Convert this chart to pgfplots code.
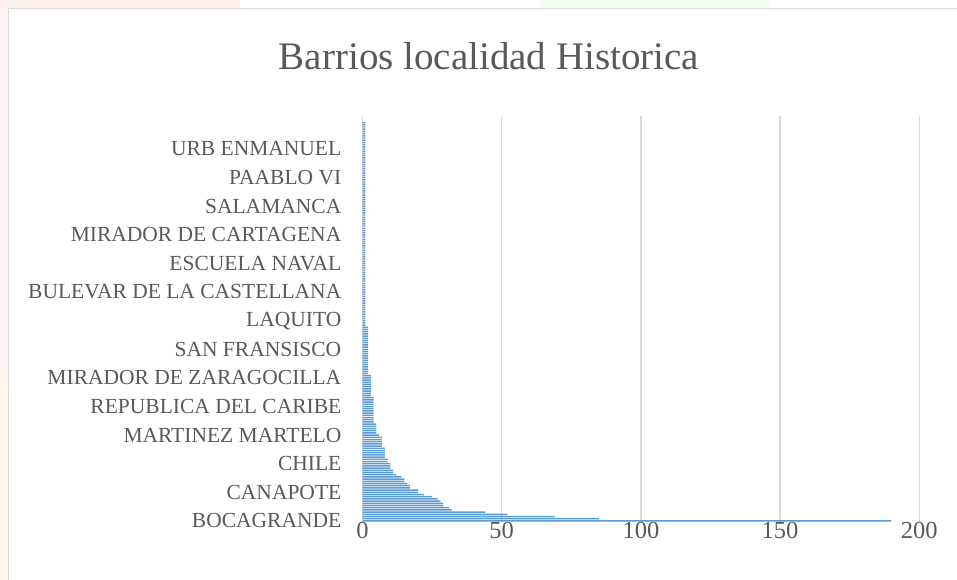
\documentclass[border=0pt]{standalone}
\usepackage{fontspec}
\setmainfont{Liberation Serif}
\usepackage{pgfplots}
\pgfplotsset{compat=1.18}
\definecolor{barblue}{HTML}{5B9BD5}
\definecolor{txtgray}{HTML}{595959}
\definecolor{gridgray}{HTML}{D9D9D9}
\definecolor{framegray}{HTML}{D9D9D9}
\begin{document}
\begin{tikzpicture}
\useasboundingbox (0pt,0pt) rectangle (957pt,580pt);
% faint decorations outside the chart frame
\fill[red!6] (0pt,571pt) rectangle (240pt,580pt);
\fill[green!5] (540pt,571pt) rectangle (770pt,580pt);
\fill[red!5] (0pt,200pt) rectangle (8pt,571pt);
\fill[orange!8] (0pt,0pt) rectangle (8pt,200pt);
\draw[framegray, line width=1pt] (8pt,0pt) -- (8pt,571pt) -- (957pt,571pt);
\node[anchor=base, text=txtgray, font=\fontsize{39}{39}\selectfont, inner sep=0pt] at (489pt,510pt) {Barrios localidad Historica};
\begin{axis}[
  at={(362.5pt,58pt)}, anchor=south west,
  scale only axis, width=556.8pt, height=406pt,
  xbar, bar width=0.65,
  xmin=0, xmax=200,
  ymin=-0.5, ymax=184,
  xtick={0,50,100,150,200},
  ytick={0,13,26,39,52,65,78,91,104,117,130,143,156,169},
  yticklabels={BOCAGRANDE, CANAPOTE, CHILE, MARTINEZ MARTELO, REPUBLICA DEL CARIBE, MIRADOR DE ZARAGOCILLA, SAN FRANSISCO, LAQUITO, BULEVAR DE LA CASTELLANA, ESCUELA NAVAL, MIRADOR DE CARTAGENA, SALAMANCA, PAABLO VI, URB ENMANUEL},
  major tick length=0pt,
  axis line style={draw=none},
  xmajorgrids, ymajorgrids=false,
  grid style={gridgray, line width=1.5pt},
  /pgf/number format/assume math mode=true,
  xticklabel style={text=txtgray, font=\fontsize{24.5}{24.5}\selectfont, inner sep=0pt, anchor=north, yshift=0pt},
  yticklabel style={text=txtgray, font=\fontsize{21.5}{21.5}\selectfont, inner sep=0pt, anchor=east, xshift=-21pt},
  clip=false,
]
\addplot[fill=barblue, draw=none] coordinates {
(190,0) (85,1) (69,2) (52,3) (44,4) (32,5) (31,6) (29,7) (29,8) (28,9)
(27,10) (25,11) (22,12) (20,13) (20,14) (17,15) (17,16) (16,17) (15,18) (15,19)
(14,20) (12,21) (11,22) (11,23) (10,24) (10,25) (10,26) (9,27) (9,28) (8,29)
(8,30) (8,31) (8,32) (8,33) (7,34) (7,35) (7,36) (7,37) (7,38) (6,39)
(5,40) (5,41) (5,42) (5,43) (5,44) (4,45) (4,46) (4,47) (4,48) (4,49)
(4,50) (4,51) (4,52) (4,53) (4,54) (4,55) (4,56) (3,57) (3,58) (3,59)
(3,60) (3,61) (3,62) (3,63) (3,64) (3,65) (3,66) (2,67) (2,68) (2,69)
(2,70) (2,71) (2,72) (2,73) (2,74) (2,75) (2,76) (2,77) (2,78) (2,79)
(2,80) (2,81) (2,82) (2,83) (2,84) (2,85) (2,86) (2,87) (2,88) (1,89)
(1,90) (1,91) (1,92) (1,93) (1,94) (1,95) (1,96) (1,97) (1,98) (1,99)
(1,100) (1,101) (1,102) (1,103) (1,104) (1,105) (1,106) (1,107) (1,108) (1,109)
(1,110) (1,111) (1,112) (1,113) (1,114) (1,115) (1,116) (1,117) (1,118) (1,119)
(1,120) (1,121) (1,122) (1,123) (1,124) (1,125) (1,126) (1,127) (1,128) (1,129)
(1,130) (1,131) (1,132) (1,133) (1,134) (1,135) (1,136) (1,137) (1,138) (1,139)
(1,140) (1,141) (1,142) (1,143) (1,144) (1,145) (1,146) (1,147) (1,148) (1,149)
(1,150) (1,151) (1,152) (1,153) (1,154) (1,155) (1,156) (1,157) (1,158) (1,159)
(1,160) (1,161) (1,162) (1,163) (1,164) (1,165) (1,166) (1,167) (1,168) (1,169)
(1,170) (1,171) (1,172) (1,173) (1,174) (1,175) (1,176) (1,177) (1,178) (1,179)
(1,180) (1,181)
};
\end{axis}
\end{tikzpicture}
\end{document}
